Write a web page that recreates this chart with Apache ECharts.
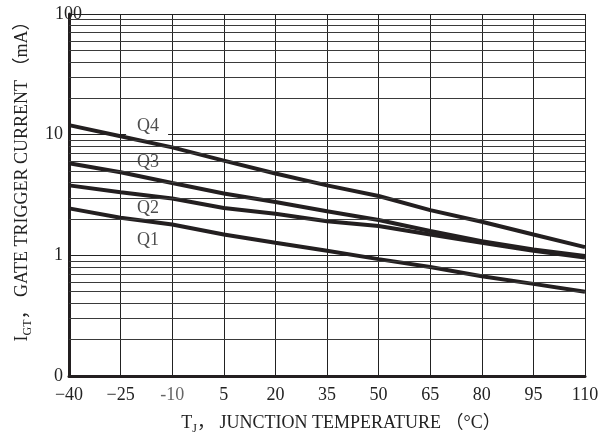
<!DOCTYPE html>
<html>
<head>
<meta charset="utf-8">
<script src="https://cdn.jsdelivr.net/npm/echarts@6/dist/echarts.min.js"></script>
<style>
  html, body { margin: 0; padding: 0; background: #fff; }
  #chart { width: 605px; height: 441px; }
</style>
</head>
<body>
<div id="chart"></div>
<script>
// Junction temperature (°C) sample points
const temps = [-40, -25, -10, 5, 20, 35, 50, 65, 80, 95, 110];

// Gate trigger current (mA) per quadrant
const q1 = [2.45, 2.05, 1.80, 1.49, 1.27, 1.09, 0.93, 0.80, 0.67, 0.58, 0.50];
const q2 = [3.80, 3.33, 2.96, 2.47, 2.21, 1.92, 1.75, 1.49, 1.27, 1.09, 0.96];
const q3 = [5.80, 4.88, 3.98, 3.25, 2.77, 2.32, 1.96, 1.59, 1.31, 1.12, 0.99];
const q4 = [12.0, 9.70, 7.85, 6.10, 4.77, 3.80, 3.10, 2.37, 1.90, 1.49, 1.17];

const seriesNames = ['Q1', 'Q2', 'Q3', 'Q4'];

// Tick labels
const xTickLabels = ['\u221240', '\u221225', '-10', '5', '20', '35', '50', '65', '80', '95', '110'];
const yTickValues = [0.1, 1, 10, 100];
const yTickLabels = ['0', '1', '10', '100'];

// Intermediate log gridlines inside each decade
const minorGrid = [0.2, 0.3, 0.4, 0.5, 0.6, 0.7, 0.8, 0.9,
                   2, 3, 4, 5, 6, 7, 8, 9,
                   20, 30, 40, 50, 60, 70, 80, 90];

const FONT = "'Liberation Serif', 'Noto Sans CJK SC', serif";
const INK = '#231f20';

const pairs = arr => temps.map((t, i) => [t, arr[i]]);

const chart = echarts.init(document.getElementById('chart'), null, { renderer: 'canvas' });

const option = {
  backgroundColor: '#fff',
  animation: false,
  grid: { left: 69, right: 20, top: 14, bottom: 65 },
  xAxis: {
    type: 'value',
    min: -40, max: 110, interval: 15,
    axisLine: { show: true, onZero: false, lineStyle: { color: INK, width: 3 } },
    axisTick: { show: false },
    splitLine: { show: true, lineStyle: { color: '#222', width: 1 } },
    axisLabel: {
      margin: 10,
      fontFamily: FONT, fontSize: 18, color: '#222',
      formatter: v => {
        const i = temps.indexOf(v);
        const s = i >= 0 ? xTickLabels[i] : '';
        return s === '-10' ? '{g|' + s + '}' : s;
      },
      rich: { g: { fontFamily: FONT, fontSize: 18, color: '#666' } }
    },
    name: '{a|T}{s|J}{a|\uff0c JUNCTION TEMPERATURE \uff08\u00b0C\uff09}',
    nameLocation: 'middle',
    nameGap: 35,
    nameTextStyle: {
      padding: [0, 0, 0, 28],
      rich: {
        a: { fontFamily: FONT, fontSize: 18, color: '#222', lineHeight: 24 },
        s: { fontFamily: FONT, fontSize: 12, color: '#222', lineHeight: 12, verticalAlign: 'bottom' }
      }
    }
  },
  yAxis: {
    type: 'log',
    logBase: 10,
    min: 0.1, max: 100,
    axisLine: { show: true, onZero: false, lineStyle: { color: INK, width: 3 } },
    axisTick: { show: false },
    splitLine: { show: true, lineStyle: { color: '#222', width: 1 } },
    axisLabel: {
      margin: -13,
      fontFamily: FONT, fontSize: 18, color: '#222',
      formatter: v => {
        let idx = -1;
        yTickValues.forEach((t, i) => { if (Math.abs(Math.log10(v) - Math.log10(t)) < 1e-6) idx = i; });
        if (idx < 0) return '';
        const s = yTickLabels[idx];
        return idx === yTickValues.length - 1 ? '{t|' + s + '}' : '{t|' + s + '}{g|}';
      },
      rich: {
        t: { fontFamily: FONT, fontSize: 18, color: '#222' },
        g: { width: 19 }
      }
    },
    name: '{a|I}{s|GT}{a|\uff0c GATE TRIGGER CURRENT \uff08mA\uff09}',
    nameLocation: 'middle',
    nameRotate: 90,
    nameGap: 34,
    nameTextStyle: {
      padding: [0, 0, 0, 36],
      rich: {
        a: { fontFamily: FONT, fontSize: 18, color: '#222', lineHeight: 24 },
        s: { fontFamily: FONT, fontSize: 12, color: '#222', lineHeight: 12, verticalAlign: 'bottom' }
      }
    }
  },
  series: [
    // intermediate decade gridlines
    {
      type: 'line', data: [], z: 1, silent: true,
      markLine: {
        silent: true, symbol: 'none', animation: false,
        label: { show: false },
        lineStyle: { color: '#3a3a3a', width: 1, type: 'solid' },
        data: minorGrid.map(v => ({ yAxis: v }))
      }
    },
    // white strip behind the quadrant labels
    {
      type: 'line', data: [], z: 2, silent: true,
      markArea: {
        silent: true,
        itemStyle: { color: '#fff' },
        data: [[{ xAxis: -23.4, yAxis: 10.6 }, { xAxis: -11.2, yAxis: 1.08 }]]
      }
    },
    // quadrant labels
    {
      type: 'scatter', z: 2, silent: true,
      symbolSize: 0,
      data: [
        { name: 'Q4', value: [-17, 11.8] },
        { name: 'Q3', value: [-17, 5.9] },
        { name: 'Q2', value: [-17, 2.44] },
        { name: 'Q1', value: [-17, 1.33] }
      ],
      label: {
        show: true, position: 'inside',
        formatter: p => p.name,
        fontFamily: FONT, fontSize: 18, color: '#222'
      }
    },
    ...[q1, q2, q3, q4].map((arr, i) => ({
      name: seriesNames[i],
      type: 'line',
      z: 3,
      data: pairs(arr),
      showSymbol: false,
      symbol: 'none',
      lineStyle: { color: INK, width: 4 }
    }))
  ]
};

chart.setOption(option);
</script>
</body>
</html>
